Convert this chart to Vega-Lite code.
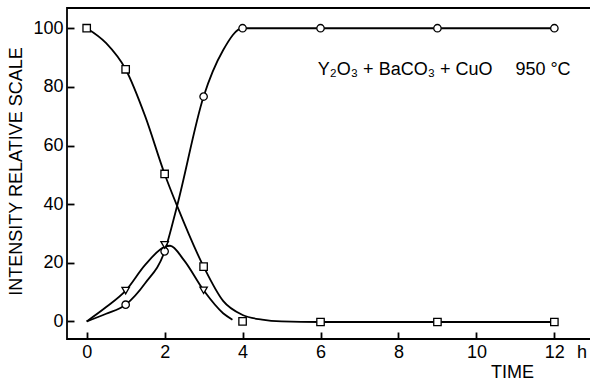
{
  "$schema": "https://vega.github.io/schema/vega-lite/v6.json",
  "width": 524,
  "height": 331,
  "autosize": {"type": "none"},
  "padding": {"left": 67, "top": 8, "right": 0, "bottom": 44},
  "background": "white",
  "config": {
    "view": {"stroke": "black", "strokeWidth": 1.8},
    "font": "Liberation Sans",
    "axis": {"labelColor": "black", "titleColor": "black", "tickColor": "black", "grid": false, "domain": false}
  },
  "datasets": {
    "points": [
      {"series": "square", "t": 0, "v": 100},
      {"series": "square", "t": 1, "v": 86},
      {"series": "square", "t": 2, "v": 50.3},
      {"series": "square", "t": 3, "v": 18.7},
      {"series": "square", "t": 4, "v": 0},
      {"series": "square", "t": 6, "v": -0.2},
      {"series": "square", "t": 9, "v": -0.2},
      {"series": "square", "t": 12, "v": -0.2},
      {"series": "circle", "t": 1, "v": 5.7},
      {"series": "circle", "t": 2, "v": 23.9},
      {"series": "circle", "t": 3, "v": 76.7},
      {"series": "circle", "t": 4, "v": 100},
      {"series": "circle", "t": 6, "v": 100},
      {"series": "circle", "t": 9, "v": 100},
      {"series": "circle", "t": 12, "v": 100},
      {"series": "tri", "t": 1, "v": 10.5},
      {"series": "tri", "t": 2, "v": 26.1},
      {"series": "tri", "t": 3, "v": 10.6}
    ],
    "curves": [
      {"series": "square", "t": 0, "v": 100},
      {"series": "square", "t": 0.5, "v": 94.9},
      {"series": "square", "t": 1, "v": 86},
      {"series": "square", "t": 1.5, "v": 70},
      {"series": "square", "t": 2, "v": 50.3},
      {"series": "square", "t": 2.32, "v": 39.4},
      {"series": "square", "t": 3, "v": 18.7},
      {"series": "square", "t": 3.5, "v": 7},
      {"series": "square", "t": 4, "v": 2.2},
      {"series": "square", "t": 4.5, "v": 0.6},
      {"series": "square", "t": 5, "v": 0},
      {"series": "square", "t": 6, "v": -0.2},
      {"series": "square", "t": 9, "v": -0.2},
      {"series": "square", "t": 12, "v": -0.2},
      {"series": "circle", "t": 0, "v": 0},
      {"series": "circle", "t": 0.5, "v": 2.6},
      {"series": "circle", "t": 1, "v": 5.7},
      {"series": "circle", "t": 1.5, "v": 13},
      {"series": "circle", "t": 2, "v": 23.9},
      {"series": "circle", "t": 2.32, "v": 39.4},
      {"series": "circle", "t": 3, "v": 76.7},
      {"series": "circle", "t": 3.5, "v": 92.5},
      {"series": "circle", "t": 4, "v": 100},
      {"series": "circle", "t": 6, "v": 100},
      {"series": "circle", "t": 9, "v": 100},
      {"series": "circle", "t": 12, "v": 100},
      {"series": "tri", "t": 0, "v": 0},
      {"series": "tri", "t": 0.5, "v": 4.9},
      {"series": "tri", "t": 1, "v": 10.5},
      {"series": "tri", "t": 1.5, "v": 19.3},
      {"series": "tri", "t": 2, "v": 25.4},
      {"series": "tri", "t": 2.14, "v": 25.8},
      {"series": "tri", "t": 2.5, "v": 20.8},
      {"series": "tri", "t": 3, "v": 10.6},
      {"series": "tri", "t": 3.5, "v": 2.8},
      {"series": "tri", "t": 3.74, "v": 0.6}
    ],
    "labels": [
      {"label": "Y₂O₃ + BaCO₃ + CuO", "t": 5.93, "v": 85.8},
      {"label": "950 °C", "t": 11.0, "v": 85.8},
      {"label": "h", "t": 12.58, "v": -10.7}
    ]
  },
  "layer": [
    {
      "data": {"name": "curves"},
      "mark": {"type": "line", "interpolate": "monotone", "color": "black", "strokeWidth": 1.8},
      "encoding": {
        "x": {
          "field": "t", "type": "quantitative",
          "scale": {"domain": [-0.505, 12.94], "nice": false, "zero": false},
          "axis": {
            "title": "TIME", "titleFontSize": 18, "titleFontWeight": "normal",
            "titleX": 445, "titleY": 33, "titleAnchor": "start", "titleAlign": "center", "titleBaseline": "middle",
            "values": [0, 2, 4, 6, 8, 10, 12], "tickSize": -7, "tickWidth": 1.8,
            "labelPadding": 11, "labelFontSize": 18, "labelFlush": false
          }
        },
        "y": {
          "field": "v", "type": "quantitative",
          "scale": {"domain": [-6, 106.9], "nice": false, "zero": false},
          "axis": {
            "title": "INTENSITY RELATIVE SCALE", "titleFontSize": 18, "titleFontWeight": "normal",
            "titleX": -51, "titleY": 163, "titleAngle": -90, "titleAlign": "center", "titleBaseline": "middle", "titleAnchor": "start",
            "values": [0, 20, 40, 60, 80, 100], "tickSize": -7, "tickWidth": 1.8,
            "labelPadding": 11, "labelFontSize": 18
          }
        },
        "detail": {"field": "series", "type": "nominal"}
      }
    },
    {
      "data": {"name": "points"},
      "mark": {"type": "point", "filled": true, "fill": "white", "stroke": "black", "strokeWidth": 1.3, "size": 55, "opacity": 1},
      "encoding": {
        "x": {"field": "t", "type": "quantitative"},
        "y": {"field": "v", "type": "quantitative"},
        "shape": {
          "field": "series", "type": "nominal",
          "scale": {"domain": ["square", "circle", "tri"], "range": ["square", "circle", "triangle-down"]},
          "legend": null
        }
      }
    },
    {
      "data": {"name": "labels"},
      "mark": {"type": "text", "align": "left", "baseline": "middle", "fontSize": 18, "color": "black", "clip": false},
      "encoding": {
        "x": {"field": "t", "type": "quantitative"},
        "y": {"field": "v", "type": "quantitative"},
        "text": {"field": "label"}
      }
    }
  ]
}
